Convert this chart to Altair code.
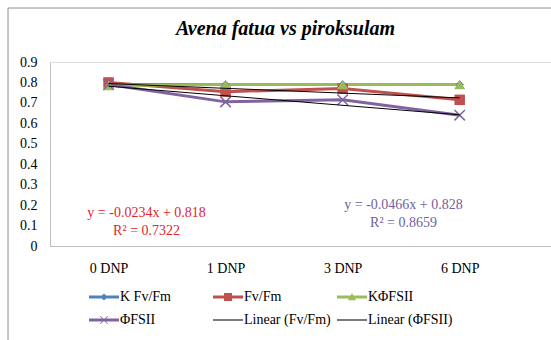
import altair as alt
import pandas as pd

# Categories (days after treatment) and measured series
categories = ["0 DNP", "1 DNP", "3 DNP", "6 DNP"]
k_fvfm = [0.79, 0.79, 0.79, 0.79]
fvfm = [0.80, 0.755, 0.77, 0.715]
k_phi = [0.785, 0.79, 0.79, 0.79]
phi = [0.79, 0.705, 0.715, 0.64]

series_names = ["K Fv/Fm", "Fv/Fm", "KΦFSII", "ΦFSII"]
series_values = [k_fvfm, fvfm, k_phi, phi]
series_colors = ["#4f81bd", "#c0504d", "#9bbb59", "#8064a2"]

# Linear trendlines (Excel style, x = 1..4)
trend_names = ["Linear (Fv/Fm)", "Linear (ΦFSII)"]
trend_slopes = [-0.0234, -0.0466]
trend_intercepts = [0.818, 0.828]
trend_r2 = [0.7322, 0.8659]
trend_label_colors = ["#e0262b", "#7062a3"]
trend_label_x = [1.325, 3.52]
trend_label_y = [0.161, 0.2]
trend_label_y2 = [0.073, 0.114]

y_ticks = [0, 0.1, 0.2, 0.3, 0.4, 0.5, 0.6, 0.7, 0.8, 0.9]

legend_names = series_names + trend_names
legend_fill = series_colors + ["#000000", "#000000"]

# Legend glyphs: line segment plus marker, in a [-1, 1] symbol box
bar = "M-3.75,-0.35H3.75V0.35H-3.75Z"
thin = "M-3.75,-0.13H3.75V0.13H-3.75Z"
legend_shapes = [
    bar + "M0,-0.9L0.9,0L0,0.9L-0.9,0Z",
    bar + "M-1,-1H1V1H-1Z",
    bar + "M0,-1L1,0.8H-1Z",
    bar + "M-0.85,-1L1,0.85L0.85,1L-1,-0.85ZM-1,0.85L0.85,-1L1,-0.85L-0.85,1Z",
    thin,
    thin,
]

FONT = "Liberation Serif"
TEXT_SIZE = 14

rows = []
for name, vals in zip(series_names, series_values):
    for i, v in enumerate(vals):
        rows.append({"series": name, "idx": i + 1, "value": v})
df = pd.DataFrame(rows)

trend_rows = []
for name, m, b in zip(trend_names, trend_slopes, trend_intercepts):
    for i in (1, len(categories)):
        trend_rows.append({"series": name, "idx": i, "m": m, "b": b})
trend_df = pd.DataFrame(trend_rows)

label_rows = []
for m, b, r2, c, lx, ly, ly2 in zip(trend_slopes, trend_intercepts, trend_r2,
                                    trend_label_colors, trend_label_x,
                                    trend_label_y, trend_label_y2):
    label_rows.append({"txt": f"y = {m}x + {b}", "idx": lx, "value": ly, "c": c})
    label_rows.append({"txt": f"R² = {r2}", "idx": lx, "value": ly2, "c": c})
label_df = pd.DataFrame(label_rows)

label_expr = "[" + ",".join(f"'{c}'" for c in categories) + "][datum.value - 1]"

x_scale = alt.Scale(domain=[0.5, 4.78], nice=False, zero=False)
y_scale = alt.Scale(domain=[0, 0.9], nice=False)

x_axis = alt.Axis(
    values=[1, 2, 3, 4], labelExpr=label_expr, title=None, grid=False,
    ticks=False, domainColor="#bfbfbf", labelFont=FONT, labelFontSize=TEXT_SIZE,
    labelColor="#000000", labelPadding=15, labelOverlap=False)
y_axis = alt.Axis(
    values=y_ticks,
    labelExpr="datum.value == 0 ? '0' : format(datum.value, '.1f')",
    title=None, grid=False, ticks=False, domainColor="#bfbfbf",
    labelFont=FONT, labelFontSize=TEXT_SIZE, labelColor="#000000", labelPadding=13,
    labelOverlap=False, labelFlush=False, tickCount=10)

X = alt.X("idx:Q", scale=x_scale, axis=x_axis)
Y = alt.Y("value:Q", scale=y_scale, axis=y_axis)

color_scale = alt.Scale(domain=series_names, range=series_colors)

# Outer chart frame
frame = alt.Chart(pd.DataFrame({"k": [0]})).mark_rect(
    fill="transparent", stroke="#8c8c8c", strokeWidth=1
).encode(x=alt.value(-42), x2=alt.value(520), y=alt.value(-54), y2=alt.value(290))

lines = alt.Chart(df).mark_line(strokeWidth=3, opacity=1).encode(
    x=X, y=Y,
    color=alt.Color("series:N", scale=color_scale, legend=None),
    order=alt.Order("idx:Q"),
    detail="series:N",
)

marker_shapes = ["diamond", "square", "triangle-up",
                 "M-1,-1L1,1M-1,1L1,-1"]
marker_sizes = [70, 110, 120, 110]
points = []
for name, shp, sz in zip(series_names, marker_shapes, marker_sizes):
    if shp.startswith("M"):
        mk = alt.Chart(df).mark_point(shape=shp, filled=False, size=sz,
                                      strokeWidth=1.5, opacity=1)
    else:
        mk = alt.Chart(df).mark_point(shape=shp, filled=True, size=sz, opacity=1)
    points.append(
        mk.transform_filter(alt.datum.series == name).encode(
            x=X, y=Y,
            color=alt.Color("series:N", scale=color_scale, legend=None),
        )
    )

trends = alt.Chart(trend_df).transform_calculate(
    value="datum.m * datum.idx + datum.b"
).mark_line(color="#000000", strokeWidth=1).encode(
    x=X, y=Y, detail="series:N",
)

labels = alt.Chart(label_df).mark_text(
    font=FONT, fontSize=14, align="center", baseline="middle"
).encode(
    x=X, y=Y,
    text="txt:N",
    color=alt.Color("c:N", scale=None),
)

# Legend-only layer (no rows drawn), built from the shared series domain
legend_layer = alt.Chart(pd.DataFrame({"series": legend_names})).transform_filter(
    "false"
).mark_point(filled=True, strokeWidth=0, opacity=1).encode(
    x=X, y=Y,
    fill=alt.Fill("series:N", scale=alt.Scale(domain=legend_names, range=legend_fill),
                  legend=alt.Legend(
                      title=None, orient="none", legendX=47, legendY=228,
                      direction="horizontal", columns=3, gridAlign="all",
                      columnPadding=6, rowPadding=9, symbolSize=64,
                      symbolStrokeWidth=0, labelOffset=9, labelFont=FONT,
                      labelFontSize=TEXT_SIZE, labelColor="#000000", padding=0,
                      symbolOpacity=1)),
    shape=alt.Shape("series:N", scale=alt.Scale(domain=legend_names, range=legend_shapes)),
)

chart = alt.layer(frame, lines, *points, trends, labels, legend_layer).properties(
    width=501, height=184,
    padding={"left": 50, "top": 62, "right": 0, "bottom": 94},
    autosize="none",
    title=alt.TitleParams(
        "Avena fatua vs piroksulam", font=FONT, fontSize=20,
        fontStyle="italic", fontWeight="bold", color="#000000",
        anchor="middle", dx=-15, offset=-31,
    ),
).configure_view(stroke=None).configure(background="#ffffff")

chart.save("out.html", embed_options={"renderer": "svg", "actions": False})
